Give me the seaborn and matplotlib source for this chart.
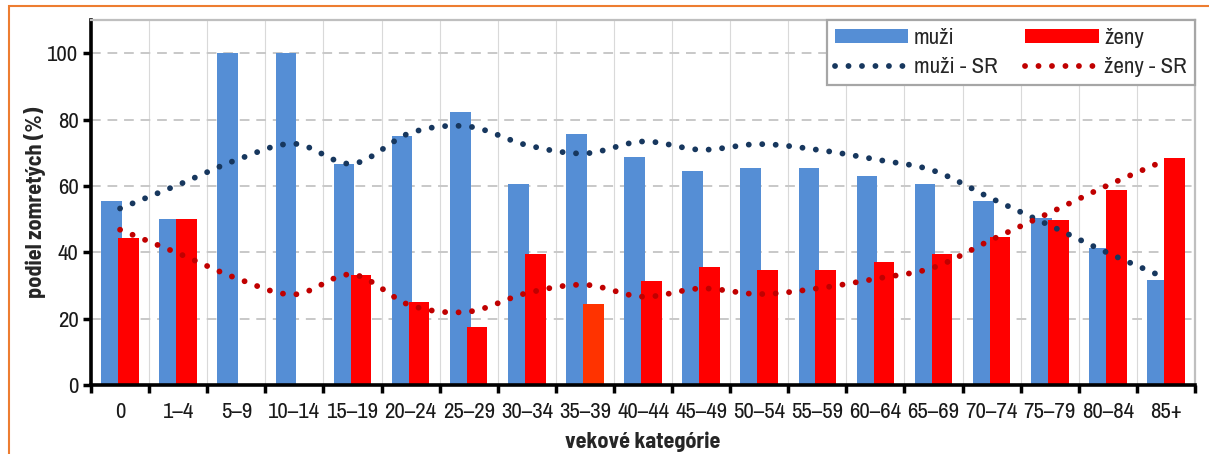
import numpy as np
import pandas as pd
import seaborn as sns
import matplotlib
matplotlib.use("Agg")
import matplotlib.pyplot as plt
from matplotlib.lines import Line2D
from matplotlib.patches import Patch, Rectangle

sns.set_theme(style="white")
plt.rcParams['font.family'] = ['Archivo Narrow', 'DejaVu Sans']
BOLD_FONT = ['Barlow Semi Condensed', 'DejaVu Sans']

kategorie = ['0', '1–4', '5–9', '10–14', '15–19', '20–24', '25–29', '30–34', '35–39', '40–44',
             '45–49', '50–54', '55–59', '60–64', '65–69', '70–74', '75–79', '80–84', '85+']
muzi = [55.6, 50.0, 100.0, 100.0, 66.7, 75.0, 82.4, 60.6, 75.6, 68.6,
        64.5, 65.3, 65.4, 63.0, 60.6, 55.5, 50.3, 41.2, 31.5]
zeny = [44.4, 50.0, np.nan, np.nan, 33.3, 25.0, 17.6, 39.4, 24.4, 31.4,
        35.5, 34.7, 34.6, 37.0, 39.4, 44.5, 49.7, 58.8, 68.5]
muzi_sr = [53.2, 60.3, 67.8, 72.7, 66.7, 76.0, 77.9, 72.3, 69.8, 73.4,
           70.9, 72.6, 70.9, 68.0, 64.6, 56.2, 48.1, 39.8, 32.2]
zeny_sr = [46.8, 39.7, 32.2, 27.3, 33.3, 24.0, 22.1, 27.7, 30.2, 26.6,
           29.1, 27.4, 29.1, 32.0, 35.4, 43.8, 51.9, 60.2, 67.8]

C_MUZI = '#558ED5'
C_ZENY = '#FF0000'
C_MUZI_SR = '#17375E'
C_ZENY_SR = '#C00000'


def smooth(vals, n=24):
    # catmull-rom, like excel smoothed line
    pts = np.column_stack([np.arange(len(vals)), vals]).astype(float)
    p = np.vstack([2 * pts[0] - pts[1], pts, 2 * pts[-1] - pts[-2]])
    t = np.linspace(0, 1, n, endpoint=False)[:, None]
    out = []
    for i in range(1, len(p) - 2):
        p0, p1, p2, p3 = p[i - 1], p[i], p[i + 1], p[i + 2]
        seg = 0.5 * (2 * p1 + (-p0 + p2) * t + (2 * p0 - 5 * p1 + 4 * p2 - p3) * t ** 2
                     + (-p0 + 3 * p1 - 3 * p2 + p3) * t ** 3)
        out.append(seg)
    out.append(pts[-1:])
    out = np.vstack(out)
    return out[:, 0], out[:, 1]


df = pd.DataFrame({'kat': kategorie * 2,
                   'val': muzi + zeny,
                   'pohlavie': ['muži'] * len(kategorie) + ['ženy'] * len(kategorie)})

fig = plt.figure(figsize=(12.09, 4.54), dpi=100)
ax = fig.add_axes([91 / 1209, 1 - 385 / 454, (1195 - 91) / 1209, (385 - 20) / 454])

sns.barplot(data=df, x='kat', y='val', hue='pohlavie', order=kategorie,
            palette={'muži': C_MUZI, 'ženy': C_ZENY}, width=0.58, dodge=True,
            saturation=1, errorbar=None, legend=False, ax=ax, zorder=2)

bw = 0.356
for p in ax.patches:
    c = p.get_x() + p.get_width() / 2
    p.set_x(c - bw / 2)
    p.set_width(bw)
    p.set_linewidth(0)
    if abs(c - (8 + 0.145)) < 0.05:
        p.set_facecolor('#FF3300')

dots = (0, (0.01, 2.3))
LW = 4.2
xs, ys = smooth(muzi_sr)
ax.plot(xs, ys, color=C_MUZI_SR, lw=LW, linestyle=dots, dash_capstyle='round', zorder=3)
xs, ys = smooth(zeny_sr)
ax.plot(xs, ys, color=C_ZENY_SR, lw=LW, linestyle=dots, dash_capstyle='round', zorder=3)

ax.set_xlim(-0.5, len(kategorie) - 0.5)
ax.set_ylim(0, 110)
ax.set_yticks([0, 20, 40, 60, 80, 100])

ax.set_xticks(np.arange(len(kategorie) + 1) - 0.5)
ax.set_xticklabels([])
ax.set_xticks(np.arange(len(kategorie)), minor=True)
ax.set_xticklabels(kategorie, minor=True)
ax.tick_params(axis='x', which='major', direction='out', length=6, width=2.5, color='black', bottom=True)
ax.tick_params(axis='x', which='minor', length=0, pad=12, labelsize=16.5, colors='#1a1a1a')
ax.tick_params(axis='y', direction='out', length=6, width=2.5, color='black', left=True,
               labelsize=16.5, labelcolor='#1a1a1a', pad=3)

ax.yaxis.grid(True, color='#C8C8C8', lw=1.4, linestyle=(0, (5, 3.5)), zorder=0)
ax.xaxis.grid(True, which='major', color='#D9D9D9', lw=0.8, linestyle='-', zorder=0)
ax.set_axisbelow(True)

for s in ['left', 'bottom']:
    ax.spines[s].set_color('black')
    ax.spines[s].set_linewidth(2.6)
for s in ['top', 'right']:
    ax.spines[s].set_color('#BFBFBF')
    ax.spines[s].set_linewidth(1.6)

ax.set_xlabel('vekové kategórie', fontsize=16, fontweight='bold', family=BOLD_FONT, labelpad=7)
ax.set_ylabel('podiel zomretých (%)', fontsize=16, fontweight='bold', family=BOLD_FONT, labelpad=1)

handles = [Patch(facecolor=C_MUZI, edgecolor='none'),
           Line2D([0], [0], color=C_MUZI_SR, lw=LW, linestyle=dots, dash_capstyle='round'),
           Patch(facecolor=C_ZENY, edgecolor='none'),
           Line2D([0], [0], color=C_ZENY_SR, lw=LW, linestyle=dots, dash_capstyle='round')]
labels = ['muži', 'muži - SR', 'ženy', 'ženy - SR']
leg = ax.legend(handles, labels, loc='upper right', bbox_to_anchor=(1, 1), ncol=2,
                fontsize=16.5, frameon=True, fancybox=False, framealpha=1,
                borderaxespad=0, borderpad=0.35, handlelength=3.2, handleheight=0.55,
                handletextpad=0.25, columnspacing=1.2, labelspacing=0.4)
leg.get_frame().set_edgecolor('#A6A6A6')
leg.get_frame().set_linewidth(1.6)
leg.set_zorder(5)

fig.patches.append(Rectangle((9 / 1209, -0.1), 1.2, 1 - 6 / 454 + 0.1, transform=fig.transFigure,
                             fill=False, edgecolor='#ED7D31', lw=1.5))

fig.savefig('out.png', dpi=100)
